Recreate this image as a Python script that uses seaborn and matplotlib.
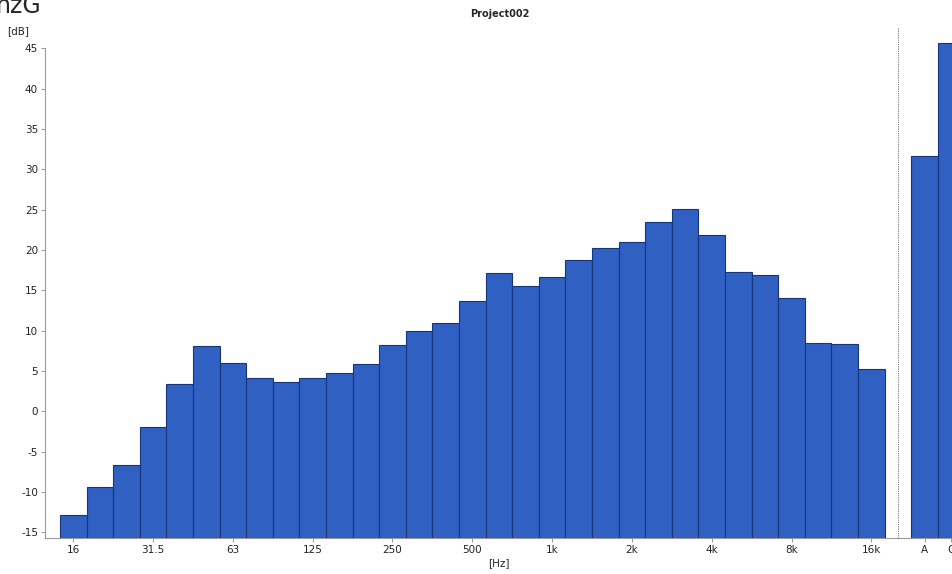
import numpy as np
import pandas as pd
import matplotlib
matplotlib.use("Agg")
from matplotlib import pyplot as plt
import seaborn as sns

# third-octave band levels
bands = ['16', '20', '25', '31.5', '40', '50', '63', '80', '100', '125', '160',
         '200', '250', '315', '400', '500', '630', '800', '1k', '1.25k', '1.6k',
         '2k', '2.5k', '3.15k', '4k', '5k', '6.3k', '8k', '10k', '12.5k', '16k']
levels = [-12.8, -9.4, -6.7, -2.0, 3.4, 8.1, 6.0, 4.1, 3.6, 4.1, 4.7,
          5.9, 8.2, 10.0, 10.9, 13.7, 17.1, 15.5, 16.6, 18.8, 20.2,
          21.0, 23.4, 25.1, 21.8, 17.3, 16.9, 14.1, 8.5, 8.4, 5.2]
# broadband weighted totals
weighted = ['A', 'C']
weighted_levels = [31.6, 45.6]

y_ticks = list(range(-15, 50, 5))
ymin, ymax = -15.7, 47.5

sns.set_style("ticks")
plt.rcParams['font.family'] = ['DejaVu Sans']

n = len(bands)
pos = list(range(n)) + [n + 1 + i for i in range(len(weighted))]
df = pd.DataFrame({'pos': pos, 'level': levels + weighted_levels})
df['height'] = df['level'] - ymin

fig = plt.figure(figsize=(9.53, 5.74), dpi=100)
ax = fig.add_axes([45 / 953, 36 / 574, 1 - 45 / 953, 510 / 574])

sns.barplot(data=df, x='pos', y='height', native_scale=True, width=1,
            bottom=ymin, color='#2f60c2', saturation=1,
            edgecolor='#17367a', linewidth=0.8, ax=ax)

# divider between band spectrum and weighted totals
ax.axvline(n, color='#777777', linestyle=(0, (1, 1)), linewidth=0.8)

ax.set_xlim(-1.06, 33.07)
ax.set_ylim(ymin, ymax)

tick_idx = list(range(0, n, 3))
ax.set_xticks([pos[i] for i in tick_idx] + pos[n:])
ax.set_xticklabels([bands[i] for i in tick_idx] + weighted, fontsize=7.5)
ax.set_yticks(y_ticks)
ax.set_yticklabels([str(v) for v in y_ticks], fontsize=7.5)
ax.tick_params(axis='both', length=3, width=0.6, color='#888888', pad=2,
               labelcolor='#222222')

sns.despine(ax=ax)
ax.spines['left'].set_bounds(ymin, 45)
for s in ['left', 'bottom']:
    ax.spines[s].set_color('#999999')
    ax.spines[s].set_linewidth(0.8)

ax.set_xlabel('[Hz]', fontsize=7.5, labelpad=2)
ax.set_ylabel('')
ax.text(-0.03, 0.985, '[dB]', transform=ax.transAxes, fontsize=7.5, ha='center', va='bottom')
fig.text(500 / 953, 1 - 14 / 574, 'Project002', fontsize=7, fontweight='bold',
         ha='center', va='center')
# heading of the surrounding page, cut by the crop
fig.text(-0.004, 1 - 13 / 574, 'nzG', fontsize=17, ha='left', va='baseline')

plt.savefig('out.png', dpi=100)
